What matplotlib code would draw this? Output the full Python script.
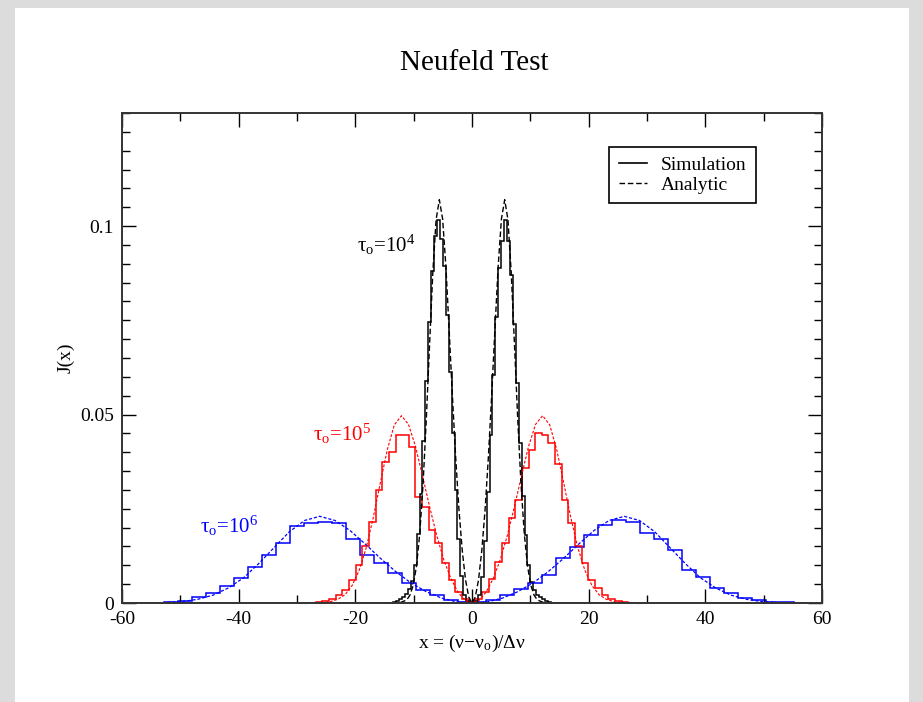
import numpy as np
import matplotlib
matplotlib.use('Agg')
import matplotlib.pyplot as plt
from matplotlib.patches import Rectangle

plt.rcParams['font.family'] = ['Liberation Serif', 'DejaVu Serif']
plt.rcParams['mathtext.fontset'] = 'custom'
plt.rcParams['mathtext.rm'] = 'Liberation Serif'
plt.rcParams['mathtext.it'] = 'Liberation Serif:italic'
plt.rcParams['axes.unicode_minus'] = False

# analytic Neufeld profiles J(x)
x_an_4 = [-12.32, -11.2, -10.64, -10.08, -9.52, -8.96, -8.4, -7.84, -7.28, -6.72, -6.16,
          -5.6, -5.04, -4.48, -3.92, -3.36, -2.8, -2.24, -1.68, -1.12, -0.56, 0.0,
          0.56, 1.12, 1.68, 2.24, 2.8, 3.36, 3.92, 4.48, 5.04, 5.6,
          6.16, 6.72, 7.28, 7.84, 8.4, 8.96, 9.52, 10.08, 10.64, 11.2, 12.32]
J_an_4 = [0.0001, 0.0008, 0.0021, 0.0047, 0.0098, 0.0184, 0.0314, 0.0487, 0.0685, 0.0877, 0.1017,
          0.1070, 0.1019, 0.0893, 0.0724, 0.0548, 0.0386, 0.0248, 0.0140, 0.0062, 0.0016, 0.0,
          0.0016, 0.0062, 0.0140, 0.0248, 0.0386, 0.0548, 0.0724, 0.0893, 0.1019, 0.1070,
          0.1017, 0.0877, 0.0685, 0.0487, 0.0314, 0.0184, 0.0098, 0.0047, 0.0021, 0.0008, 0.0001]

x_an_5 = [-26.62, -24.2, -22.99, -21.78, -20.57, -19.36, -18.15, -16.94, -15.73, -14.52, -13.31,
          -12.1, -10.89, -9.68, -8.47, -7.26, -6.05, -4.84, -3.63, -2.42, -1.21, 0.0,
          1.21, 2.42, 3.63, 4.84, 6.05, 7.26, 8.47, 9.68, 10.89, 12.1,
          13.31, 14.52, 15.73, 16.94, 18.15, 19.36, 20.57, 21.78, 22.99, 24.2, 26.62]
J_an_5 = [0.0000, 0.0004, 0.0010, 0.0022, 0.0046, 0.0086, 0.0146, 0.0226, 0.0318, 0.0407, 0.0473,
          0.0497, 0.0474, 0.0415, 0.0336, 0.0255, 0.0179, 0.0115, 0.0065, 0.0029, 0.0007, 0.0,
          0.0007, 0.0029, 0.0065, 0.0115, 0.0179, 0.0255, 0.0336, 0.0415, 0.0474, 0.0497,
          0.0473, 0.0407, 0.0318, 0.0226, 0.0146, 0.0086, 0.0046, 0.0022, 0.0010, 0.0004, 0.0000]

x_an_6 = [-52.2, -49.59, -46.98, -44.37, -41.76, -39.15, -36.54, -33.93, -31.32, -28.71,
          -26.1, -23.49, -20.88, -18.27, -15.66, -13.05, -10.44, -7.83, -5.22, -2.61, 0.0,
          2.61, 5.22, 7.83, 10.44, 13.05, 15.66, 18.27, 20.88, 23.49, 26.1,
          28.71, 31.32, 33.93, 36.54, 39.15, 41.76, 44.37, 46.98, 49.59, 52.2]
J_an_6 = [0.0002, 0.0004, 0.0010, 0.0021, 0.0040, 0.0067, 0.0105, 0.0147, 0.0189, 0.0219,
          0.0230, 0.0219, 0.0192, 0.0156, 0.0118, 0.0083, 0.0053, 0.0030, 0.0013, 0.0003, 0.0,
          0.0003, 0.0013, 0.0030, 0.0053, 0.0083, 0.0118, 0.0156, 0.0192, 0.0219, 0.0230,
          0.0219, 0.0189, 0.0147, 0.0105, 0.0067, 0.0040, 0.0021, 0.0010, 0.0004, 0.0002]

# simulated spectra, histogram bin edges and counts
edges_4 = np.arange(-14.5, 14.51, 0.5)
J_sim_4 = [0.0000, 0.0001, 0.0003, 0.0006, 0.0010, 0.0015, 0.0023, 0.0036, 0.0058, 0.0102,
           0.0182, 0.0290, 0.0430, 0.0590, 0.0745, 0.0880, 0.0975, 0.1016, 0.0965, 0.0893,
           0.0765, 0.0612, 0.0452, 0.0300, 0.0170, 0.0072, 0.0022, 0.0006, 0.0001,
           0.0001, 0.0005, 0.0020, 0.0070, 0.0165, 0.0295, 0.0445, 0.0605, 0.0760, 0.0890,
           0.0960, 0.1016, 0.0960, 0.0870, 0.0740, 0.0585, 0.0425, 0.0285, 0.0180, 0.0100,
           0.0055, 0.0035, 0.0022, 0.0015, 0.0010, 0.0006, 0.0003, 0.0001, 0.0000]

edges_5 = np.arange(-27.93, 27.94, 1.14)
J_sim_5 = [0.0001, 0.0003, 0.0006, 0.0011, 0.0020, 0.0035, 0.0060, 0.0100, 0.0150, 0.0216,
           0.0300, 0.0375, 0.0400, 0.0446, 0.0446, 0.0415, 0.0282, 0.0255, 0.0193, 0.0158,
           0.0105, 0.0060, 0.0030, 0.0010, 0.0002,
           0.0010, 0.0030, 0.0065, 0.0110, 0.0158, 0.0225, 0.0273, 0.0357, 0.0406, 0.0450,
           0.0445, 0.0424, 0.0370, 0.0273, 0.0211, 0.0150, 0.0105, 0.0061, 0.0039, 0.0021,
           0.0011, 0.0005, 0.0003, 0.0001]

edges_6 = np.arange(-52.8, 55.21, 2.4)
J_sim_6 = [0.0003, 0.0005, 0.0017, 0.0027, 0.0045, 0.0066, 0.0096, 0.0127, 0.0158, 0.0204,
           0.0212, 0.0214, 0.0212, 0.0170, 0.0127, 0.0105, 0.0079, 0.0053, 0.0035, 0.0022,
           0.0009, 0.0003,
           0.0003, 0.0008, 0.0020, 0.0036, 0.0054, 0.0075, 0.0120, 0.0149, 0.0180, 0.0207,
           0.0220, 0.0216, 0.0185, 0.0171, 0.0141, 0.0087, 0.0070, 0.0039, 0.0026, 0.0013,
           0.0009, 0.0004, 0.0003]

RED = '#ff0000'
BLUE = '#0000ff'

fig = plt.figure(figsize=(9.23, 7.02), dpi=100)
fig.patch.set_facecolor('#dcdcdc')
# white page inside the grey border
fig.patches.append(Rectangle((15 / 923, 0), 894 / 923, 694 / 702, transform=fig.transFigure,
                             facecolor='white', edgecolor='none', zorder=-10))

ax = fig.add_axes([0.1322, 0.1410, 0.7584, 0.6980])
ax.set_zorder(2)

ax.stairs(J_sim_6, edges_6, color=BLUE, lw=1.1)
ax.stairs(J_sim_5, edges_5, color=RED, lw=1.1)
ax.stairs(J_sim_4, edges_4, color='black', lw=1.1)
ax.plot(x_an_6, J_an_6, color=BLUE, lw=0.9, dashes=(2.5, 1.5))
ax.plot(x_an_5, J_an_5, color=RED, lw=0.8, dashes=(2.5, 1.5))
ax.plot(x_an_4, J_an_4, color='black', lw=1.0, dashes=(4, 2))

ax.set_xlim(-60, 60)
ax.set_ylim(0, 0.13)
ax.set_xticks([-60, -40, -20, 0, 20, 40, 60])
ax.set_xticks(np.arange(-50, 51, 20), minor=True)
ax.set_yticks([0, 0.05, 0.1])
ax.set_yticklabels(['0', '0.05', '0.1'])
ax.set_yticks(np.arange(0, 0.1301, 0.005), minor=True)
ax.tick_params(which='both', direction='in', top=True, right=True, labelsize=14, width=1.0)
ax.tick_params(which='major', length=10, pad=6)
ax.tick_params(which='minor', length=6)
for s in ax.spines.values():
    s.set_linewidth(1.4)
    s.set_color('#333333')

ax.set_xlabel('x = (ν−ν$_{\\rm o}$)/Δν', fontsize=14, labelpad=3)
ax.set_ylabel('J(x)', fontsize=14, labelpad=4)

ax.text(-19.8, 0.0932, 'τ$_{\\rm o}$=10$^{4}$', fontsize=15, color='black')
ax.text(-27.3, 0.0431, 'τ$_{\\rm o}$=10$^{5}$', fontsize=15, color=RED)
ax.text(-46.7, 0.0185, 'τ$_{\\rm o}$=10$^{6}$', fontsize=15, color=BLUE)

h_sim, = ax.plot([], [], color='black', lw=1.2, label='Simulation')
h_an, = ax.plot([], [], color='black', lw=1.0, dashes=(4, 2), label='Analytic')
leg = ax.legend(handles=[h_sim, h_an], loc='upper right', bbox_to_anchor=(0.906, 0.931),
                borderaxespad=0, fontsize=14, frameon=True, fancybox=False, framealpha=1,
                handlelength=1.45, borderpad=0.5, labelspacing=0.1, handletextpad=0.7)
leg.get_frame().set_edgecolor('black')
leg.get_frame().set_linewidth(1.2)

fig.text(0.5135, 0.9103, 'Neufeld Test', fontsize=21, ha='center', va='center')

fig.savefig('out.png', dpi=100, facecolor=fig.get_facecolor())
